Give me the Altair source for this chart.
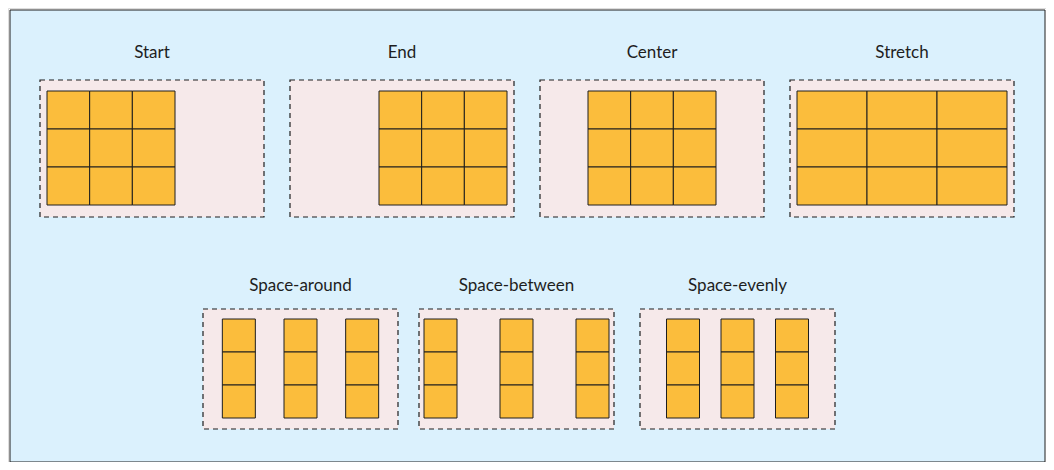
import pandas as pd
import altair as alt

# panel titles and justify modes
top_names = ["Start", "End", "Center", "Stretch"]
top_modes = ["start", "end", "center", "stretch"]
bottom_names = ["Space-around", "Space-between", "Space-evenly"]
bottom_modes = ["around", "between", "evenly"]
bottom_left = [203, 419, 640]

W, H = 1038, 454

panels, cells, titles = [], [], []

# top row: 3x3 grid of items
for i, (name, mode) in enumerate(zip(top_names, top_modes)):
    x0, y0 = 40 + i * 250, 80
    x1, y1 = x0 + 224, y0 + 137
    panels.append(dict(x=x0, x2=x1, y=y0, y2=y1))
    titles.append(dict(x=(x0 + x1) / 2, y=53, t=name))
    gw, gh = 128, 114
    if mode == "start":
        gx = x0 + 7
    elif mode == "end":
        gx = x1 - 7 - gw
    elif mode == "center":
        gx = (x0 + x1) / 2 - gw / 2
    else:
        gx, gw = x0 + 7, 210
    gy = y0 + 11
    for r in range(3):
        for c in range(3):
            cells.append(dict(x=gx + c * gw / 3, x2=gx + (c + 1) * gw / 3,
                              y=gy + r * gh / 3, y2=gy + (r + 1) * gh / 3))

# bottom row: 3 columns of 3 items
for name, mode, x0 in zip(bottom_names, bottom_modes, bottom_left):
    y0 = 309
    x1, y1 = x0 + 195, y0 + 120
    panels.append(dict(x=x0, x2=x1, y=y0, y2=y1))
    titles.append(dict(x=(x0 + x1) / 2, y=286, t=name))
    cw, ch = 33, 99
    inner = 195 - 10
    free = inner - 3 * cw
    if mode == "between":
        start, gap = 0, free / 2
    elif mode == "around":
        start, gap = free / 6, free / 3
    else:
        start, gap = free / 4, free / 4
    for c in range(3):
        cx = x0 + 5 + start + c * (cw + gap)
        for r in range(3):
            cells.append(dict(x=cx, x2=cx + cw,
                              y=y0 + 10 + r * ch / 3, y2=y0 + 10 + (r + 1) * ch / 3))

xs = alt.Scale(domain=[8, 8 + W])
ys = alt.Scale(domain=[8, 8 + H], reverse=True)


def enc(ch):
    return ch.encode(x=alt.X("x:Q", scale=xs, axis=None), x2="x2:Q",
                     y=alt.Y("y:Q", scale=ys, axis=None), y2="y2:Q")


bg = enc(alt.Chart(pd.DataFrame([dict(x=10, x2=1045, y=10, y2=462)])).mark_rect(
    fill="#dbf1fd", stroke="#1e1e1e", strokeWidth=1))
boxes = enc(alt.Chart(pd.DataFrame(panels)).mark_rect(
    fill="#f6e9ea", stroke="#1e1e1e", strokeWidth=1.2, strokeDash=[5, 4]))
items = enc(alt.Chart(pd.DataFrame(cells)).mark_rect(
    fill="#fbbd3c", stroke="#1e1e1e", strokeWidth=1))
labels = alt.Chart(pd.DataFrame(titles)).mark_text(
    fontSize=17, font="Lato", color="#1e1e1e").encode(
    x=alt.X("x:Q", scale=xs, axis=None), y=alt.Y("y:Q", scale=ys, axis=None), text="t:N")

chart = (bg + boxes + items + labels).properties(
    width=W, height=H, padding=0, autosize="none"
).configure_view(stroke=None).configure(background="white")

chart.save("out.html", embed_options={"renderer": "svg", "actions": False})
